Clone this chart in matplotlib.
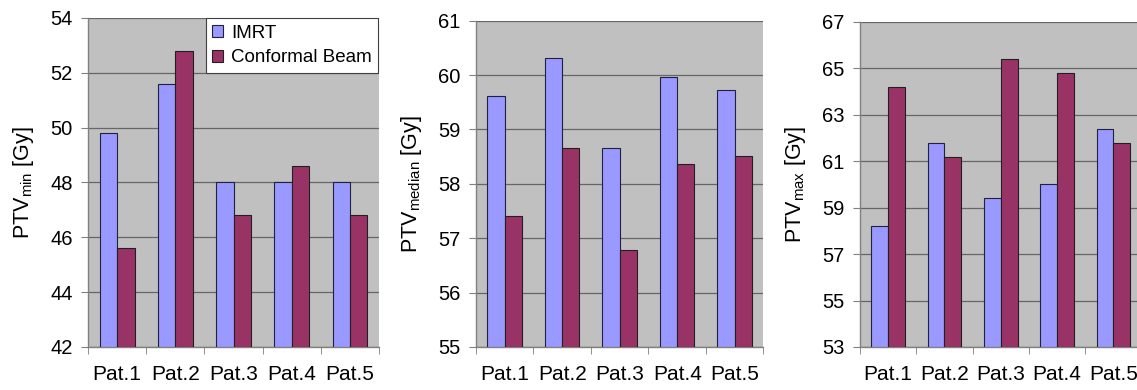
import matplotlib.pyplot as plt
import numpy as np

plt.rcParams['font.family'] = ['Liberation Sans', 'DejaVu Sans']

patients = ["Pat.1", "Pat.2", "Pat.3", "Pat.4", "Pat.5"]

imrt_min = [49.8, 51.6, 48.0, 48.0, 48.0]
conf_min = [45.6, 52.8, 46.8, 48.6, 46.8]

imrt_median = [59.62, 60.32, 58.66, 59.96, 59.73]
conf_median = [57.41, 58.66, 56.78, 58.37, 58.52]

imrt_max = [58.2, 61.8, 59.4, 60.0, 62.4]
conf_max = [64.2, 61.2, 65.4, 64.8, 61.8]

IMRT_COLOR = "#9999ff"
CONF_COLOR = "#993366"
BG = "#c0c0c0"

panels = [
    ([0.0774, 0.1103, 0.256, 0.8436], imrt_min, conf_min, (42, 54), 2, r"PTV$_{\mathregular{min}}$ [Gy]"),
    ([0.4186, 0.1103, 0.2529, 0.8367], imrt_median, conf_median, (55, 61), 1, r"PTV$_{\mathregular{median}}$ [Gy]"),
    ([0.7564, 0.1103, 0.2476, 0.8333], imrt_max, conf_max, (53, 67), 2, r"PTV$_{\mathregular{max}}$ [Gy]"),
]

fig = plt.figure(figsize=(11.37, 3.9), dpi=100)
x = np.arange(len(patients))
w = 0.3

for i, (pos, a, b, ylim, step, label) in enumerate(panels):
    ax = fig.add_axes(pos)
    ax.set_facecolor(BG)
    base = ylim[0]
    ax.bar(x - w / 2, np.array(a) - base, w, bottom=base, color=IMRT_COLOR,
           edgecolor="#202040", linewidth=0.8, label="IMRT", zorder=3)
    ax.bar(x + w / 2, np.array(b) - base, w, bottom=base, color=CONF_COLOR,
           edgecolor="#202020", linewidth=0.8, label="Conformal Beam", zorder=3)
    ax.set_xlim(-0.5, len(patients) - 0.5)
    ax.set_ylim(*ylim)
    ax.set_yticks(np.arange(ylim[0], ylim[1] + 0.01, step))
    ax.yaxis.grid(True, color="#666666", linewidth=0.9, zorder=0)
    ax.set_axisbelow(True)

    # category labels at centres, tick marks on the boundaries
    ax.set_xticks(x)
    ax.set_xticklabels(patients)
    ax.set_xticks(np.arange(-0.5, len(patients), 1.0), minor=True)
    ax.tick_params(axis="x", which="major", length=0, pad=13, labelsize=15)
    ax.tick_params(axis="x", which="minor", length=5, color="#808080", direction="out")
    ax.tick_params(axis="y", length=5, color="#808080", labelsize=14.5, pad=6)

    for s in ["top", "right"]:
        ax.spines[s].set_visible(False)
    for s in ["left", "bottom"]:
        ax.spines[s].set_color("#808080")
        ax.spines[s].set_linewidth(1.0)

    ax.set_ylabel(label, fontsize=15.5, labelpad=10)

    if i == 0:
        leg = ax.legend(loc="upper right", bbox_to_anchor=(0.997, 1.0), fontsize=13.5,
                        frameon=True, fancybox=False, edgecolor="#404040",
                        handlelength=0.6, handleheight=0.6, handletextpad=0.4,
                        borderpad=0.35, labelspacing=0.42, borderaxespad=0.0)
        leg.get_frame().set_facecolor("white")
        leg.get_frame().set_alpha(1.0)
        leg.get_frame().set_linewidth(0.8)

fig.savefig("out.png", dpi=100)
